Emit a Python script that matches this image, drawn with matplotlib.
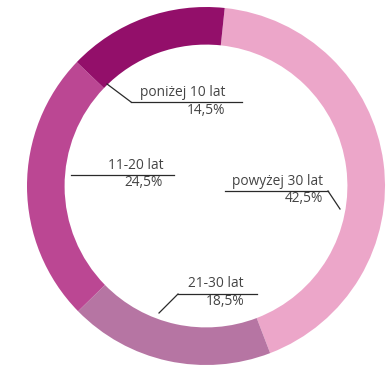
import matplotlib
matplotlib.use("Agg")
import matplotlib.pyplot as plt

# dane: struktura wiekowa
grupy = ["powyżej 30 lat", "21-30 lat", "11-20 lat", "poniżej 10 lat"]
udzialy = [42.5, 18.5, 24.5, 14.5]
kolory = ["#eca6c9", "#b675a3", "#bb4793", "#930f6a"]
etykiety = ["42,5%", "18,5%", "24,5%", "14,5%"]

W, H = 386, 365
CX, CY, R = 206, 186, 179


def px(x, y):
    # piksele obrazka -> wspolrzedne osi
    return (x - CX) / R, (CY - y) / R


fig = plt.figure(figsize=(W / 100, H / 100), dpi=100)
ax = fig.add_axes([0, 0, 1, 1])
ax.pie(udzialy, colors=kolory, startangle=84, counterclock=False,
       radius=1, wedgeprops=dict(width=0.21, linewidth=0))
ax.set_xlim(px(0, 0)[0], px(W, 0)[0])
ax.set_ylim(px(0, H)[1], px(0, 0)[1])
ax.set_aspect("equal")
ax.axis("off")

txt = dict(fontsize=9.9, color="#444444", family="Open Sans", ha="right", va="center")
ln = dict(color="#2a2a2a", lw=0.9)

# (tekst prawy x, y nazwy, y procentu, linia pozioma, odnosnik)
opisy = {
    "poniżej 10 lat": (225, 93, 111, (131, 242, 102), ((131, 102), (107, 84))),
    "11-20 lat": (163, 166, 183, (71, 174, 175), None),
    "powyżej 30 lat": (323, 182, 199, (225, 328, 191), ((328, 191), (340, 209))),
    "21-30 lat": (244, 284, 302, (178, 257, 294), ((178, 294), (159, 313))),
}

for g, e in zip(grupy, etykiety):
    xr, y1, y2, (x0, x1, yl), lead = opisy[g]
    ax.text(*px(xr, y1), g, **txt)
    ax.text(*px(xr, y2), e, **txt)
    a, b = px(x0, yl), px(x1, yl)
    ax.plot([a[0], b[0]], [a[1], b[1]], **ln)
    if lead:
        p, q = px(*lead[0]), px(*lead[1])
        ax.plot([p[0], q[0]], [p[1], q[1]], **ln)

fig.savefig("out.png", dpi=100)
